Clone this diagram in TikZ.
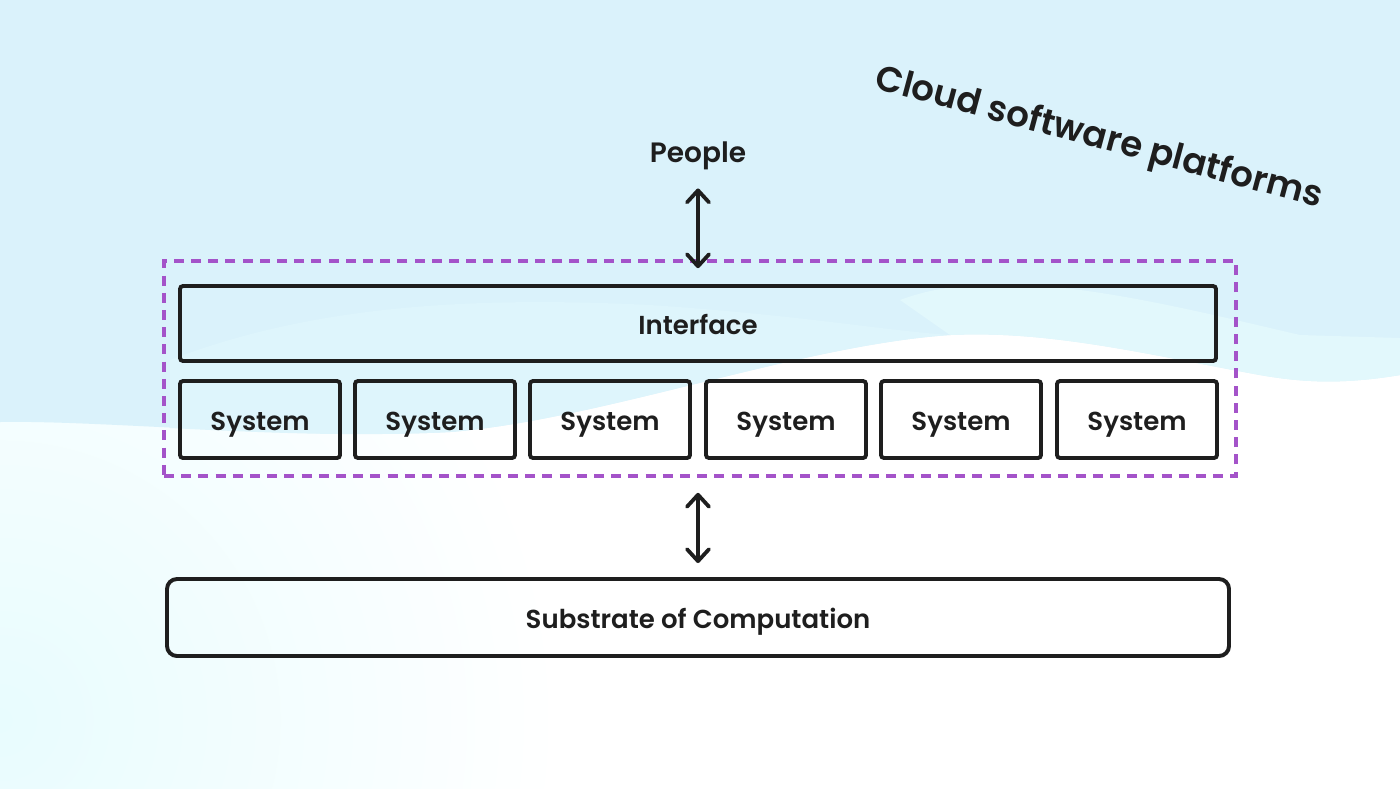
\documentclass[tikz,border=0pt]{standalone}
\usepackage{fontspec}
\setmainfont{Poppins}[BoldFont={Poppins SemiBold}]
\usetikzlibrary{arrows.meta}
\definecolor{bgblue}{HTML}{DAF2FB}
\definecolor{bandblue}{HTML}{E2F8FC}
\definecolor{bandleft}{HTML}{DEF5FC}
\definecolor{glow}{HTML}{E8FCFE}
\definecolor{ink}{HTML}{1E1E1E}
\definecolor{purp}{HTML}{A453C9}
\tikzset{mybarb/.tip={Straight Barb[length=6pt,width=11pt,line width=1.9pt,round]}}
\begin{document}
\begin{tikzpicture}[x=0.5pt,y=-0.5pt,
  box/.style={draw=ink, line width=1.95pt, rounded corners=1.5pt, inner sep=0pt,
    font=\fontsize{13}{15}\selectfont\bfseries, text=ink, text height=14pt, text depth=3pt},
  sysbox/.style={box, minimum width=80pt, minimum height=38.5pt},
  dashbox/.style={draw=purp, line width=1.8pt, dash pattern=on 5pt off 3.6pt,
    minimum width=536pt, minimum height=107.5pt, inner sep=0pt},
  biarrow/.style={draw=ink, line width=1.9pt, line cap=round, {mybarb}-{mybarb}},
  lbl/.style={text=ink, inner sep=0pt}
]
\useasboundingbox (0,0) rectangle (1400,788);
% background
\fill[white] (0,0) rectangle (1400,788);
\begin{scope}
  \clip (0,0) rectangle (1400,788);
  \shade[inner color=glow, outer color=white] (0,720) circle [radius=280pt];
\end{scope}
\fill[bgblue] (0,0) -- (1400,0) -- (1400,375)
  .. controls (1340,385) and (1300,382) .. (1260,375)
  .. controls (1150,355) and (1050,330) .. (950,335)
  .. controls (800,345) and (600,420) .. (450,432)
  .. controls (300,440) and (100,420) .. (0,422) -- cycle;
\fill[bandblue] (900,300) .. controls (1000,262) and (1150,300) .. (1300,335)
  -- (1400,338) -- (1400,375)
  .. controls (1340,385) and (1300,382) .. (1260,375)
  .. controls (1150,355) and (1050,330) .. (950,335) -- cycle;
\fill[bandleft] (170,360) .. controls (300,310) and (450,295) .. (650,305)
  .. controls (800,315) and (880,330) .. (950,335)
  .. controls (800,345) and (600,420) .. (450,432)
  .. controls (350,437) and (250,432) .. (170,428) -- cycle;

% title
\node[lbl, rotate=-15, font=\fontsize{17.8}{20}\selectfont\bfseries] (title) at (1099,139) {Cloud software platforms};

% nodes
\node[lbl, font=\fontsize{14}{16}\selectfont\bfseries] (people) at (698,156) {People};
\node[dashbox] (platform) at (700,368.5) {};
\node[box, minimum width=518pt, minimum height=37.5pt] (interface) at (698,323.5) {Interface};
\node[sysbox] (s1) at (260,419.5) {System};
\node[sysbox] (s2) at (435,419.5) {System};
\node[sysbox] (s3) at (610,419.5) {System};
\node[sysbox] (s4) at (786,419.5) {System};
\node[sysbox] (s5) at (961,419.5) {System};
\node[sysbox] (s6) at (1137,419.5) {System};
\node[box, rounded corners=5pt, minimum width=531pt, minimum height=38.5pt] (substrate) at (698,617.5) {Substrate of Computation};

% connectors
\draw[biarrow, shorten <=9pt, shorten >=-4.5pt] (people.south) -- (people.south |- platform.north);
\draw[biarrow, shorten <=7.5pt, shorten >=7pt] (platform.south -| substrate.north) -- (substrate.north);
\end{tikzpicture}
\end{document}
